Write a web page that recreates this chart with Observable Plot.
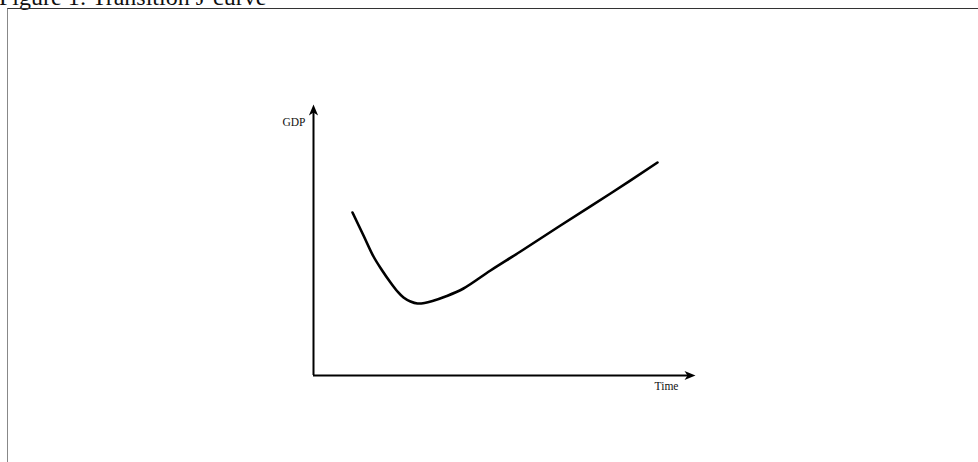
<!DOCTYPE html>
<html>
<head>
<meta charset="utf-8">
<script src="https://cdn.jsdelivr.net/npm/d3@7"></script>
<script src="https://cdn.jsdelivr.net/npm/@observablehq/plot@0.6"></script>
<style>
  html, body { margin: 0; padding: 0; background: #fff; overflow: hidden; }
  #wrap { position: relative; width: 978px; height: 462px; }
  #title { position: absolute; left: -1px; top: -14.6px; font: 24px/24px "Liberation Serif", "Times New Roman", serif; color: #111; white-space: nowrap; }
  #frame { position: absolute; left: 7px; top: 8px; width: 971px; height: 454px; border-top: 1.6px solid #333; border-left: 1.4px solid #888; box-sizing: border-box; }
  #chart { position: absolute; left: 0; top: 0; }
</style>
</head>
<body>
<div id="wrap">
  <div id="title">Figure 1: Transition J-curve</div>
  <div id="frame"></div>
  <div id="chart"></div>
</div>
<script>
// Stylised J-curve (arbitrary units: time along x, GDP along y)
const time = [39, 50, 60, 68, 77, 84, 90, 97, 104, 111, 119, 132, 150, 177, 207, 247, 297, 344];
const gdp  = [163, 140, 119, 106, 93, 84, 78, 74, 72, 72.5, 74.5, 79, 87, 105, 124, 150, 182, 213];
const xDomain = [0, 382];
const yDomain = [0, 271];
const xLabel = "Time";
const yLabel = "GDP";

const curve = time.map((t, i) => ({time: t, gdp: gdp[i]}));

const upHead = {draw(ctx) { ctx.moveTo(0, 0); ctx.lineTo(4.6, 11); ctx.lineTo(0, 8); ctx.lineTo(-4.6, 11); ctx.closePath(); }};
const rightHead = {draw(ctx) { ctx.moveTo(0, 0); ctx.lineTo(-11, -4.6); ctx.lineTo(-8, 0); ctx.lineTo(-11, 4.6); ctx.closePath(); }};

const plot = Plot.plot({
  width: 978,
  height: 462,
  marginLeft: 313,
  marginRight: 283,
  marginTop: 104,
  marginBottom: 87,
  style: "background: transparent; overflow: visible;",
  x: {domain: xDomain, axis: null},
  y: {domain: yDomain, axis: null},
  marks: [
    Plot.ruleX([xDomain[0]], {y1: yDomain[0], y2: yDomain[1] - 7, stroke: "#000", strokeWidth: 2}),
    Plot.ruleY([yDomain[0]], {x1: xDomain[0], x2: xDomain[1] - 7, stroke: "#000", strokeWidth: 2}),
    Plot.dot([0], {x: xDomain[0], y: yDomain[1], symbol: upHead, fill: "#000", stroke: null, r: 5}),
    Plot.dot([0], {x: xDomain[1], y: yDomain[0], symbol: rightHead, fill: "#000", stroke: null, r: 5}),
    Plot.line(curve, {x: "time", y: "gdp", curve: "catmull-rom", stroke: "#000", strokeWidth: 2.6, strokeLinecap: "round", strokeLinejoin: "round"}),
    Plot.text([yLabel], {x: xDomain[0], y: yDomain[1] - 18, text: d => d, dx: -8, textAnchor: "end", fontFamily: "Liberation Serif, serif", fontSize: 11.5, fill: "#111"}),
    Plot.text([xLabel], {x: xDomain[1], y: yDomain[0], text: d => d, dx: -29, dy: 11, fontFamily: "Liberation Serif, serif", fontSize: 11.5, fill: "#111"})
  ]
});
document.getElementById("chart").appendChild(plot);
</script>
</body>
</html>
